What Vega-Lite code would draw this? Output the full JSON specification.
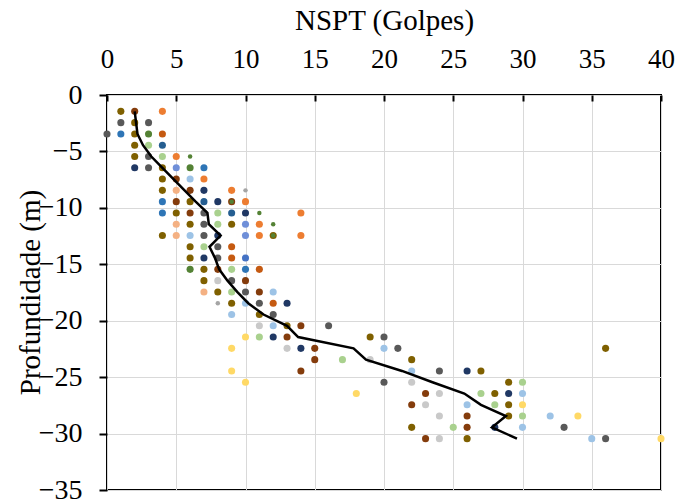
{
  "$schema": "https://vega.github.io/schema/vega-lite/v6.json",
  "width": 554,
  "height": 395,
  "autosize": {"type": "none"},
  "padding": {"left": 107, "top": 95, "right": 18, "bottom": 14},
  "background": "white",
  "config": {
    "view": {"stroke": "black", "strokeWidth": 2},
    "font": "Liberation Serif",
    "axis": {"labelFont": "Liberation Serif", "titleFont": "Liberation Serif"}
  },
  "datasets": {
    "pts": [
      {"nspt":1,"prof":-1.45,"furo":"S1"},{"nspt":2,"prof":-1.45,"furo":"S7"},{"nspt":4,"prof":-1.45,"furo":"S8"},
      {"nspt":1,"prof":-2.45,"furo":"S2"},{"nspt":2,"prof":-2.45,"furo":"S1"},{"nspt":3,"prof":-2.45,"furo":"S2"},
      {"nspt":0,"prof":-3.45,"furo":"S2"},{"nspt":1,"prof":-3.45,"furo":"S3"},{"nspt":2,"prof":-3.45,"furo":"S1"},{"nspt":3,"prof":-3.45,"furo":"S4"},{"nspt":4,"prof":-3.45,"furo":"S9"},
      {"nspt":2,"prof":-4.45,"furo":"S1"},{"nspt":3,"prof":-4.45,"furo":"S5"},{"nspt":4,"prof":-4.45,"furo":"S10"},
      {"nspt":2,"prof":-5.45,"furo":"S1"},{"nspt":3,"prof":-5.45,"furo":"S2"},{"nspt":4,"prof":-5.45,"furo":"S5"},{"nspt":5,"prof":-5.45,"furo":"S8"},{"nspt":6,"prof":-5.45,"furo":"S17"},
      {"nspt":2,"prof":-6.45,"furo":"S6"},{"nspt":3,"prof":-6.45,"furo":"S2"},{"nspt":4,"prof":-6.45,"furo":"S1"},{"nspt":5,"prof":-6.45,"furo":"S11"},{"nspt":6,"prof":-6.45,"furo":"S4"},{"nspt":7,"prof":-6.45,"furo":"S3"},
      {"nspt":4,"prof":-7.45,"furo":"S1"},{"nspt":5,"prof":-7.45,"furo":"S7"},{"nspt":6,"prof":-7.45,"furo":"S12"},{"nspt":7,"prof":-7.45,"furo":"S8"},
      {"nspt":4,"prof":-8.45,"furo":"S1"},{"nspt":5,"prof":-8.45,"furo":"S13"},{"nspt":6,"prof":-8.45,"furo":"S7"},{"nspt":7,"prof":-8.45,"furo":"S6"},{"nspt":9,"prof":-8.45,"furo":"S8"},{"nspt":10,"prof":-8.45,"furo":"S14"},
      {"nspt":4,"prof":-9.45,"furo":"S3"},{"nspt":5,"prof":-9.45,"furo":"S7"},{"nspt":6,"prof":-9.45,"furo":"S1"},{"nspt":7,"prof":-9.45,"furo":"S10"},{"nspt":8,"prof":-9.45,"furo":"S6"},{"nspt":9,"prof":-9.45,"furo":"S7"},{"nspt":9,"prof":-9.45,"furo":"S17"},{"nspt":10,"prof":-9.45,"furo":"S8"},
      {"nspt":4,"prof":-10.45,"furo":"S3"},{"nspt":5,"prof":-10.45,"furo":"S1"},{"nspt":6,"prof":-10.45,"furo":"S7"},{"nspt":7,"prof":-10.45,"furo":"S2"},{"nspt":8,"prof":-10.45,"furo":"S5"},{"nspt":9,"prof":-10.45,"furo":"S10"},{"nspt":10,"prof":-10.45,"furo":"S6"},{"nspt":11,"prof":-10.45,"furo":"S17"},{"nspt":14,"prof":-10.45,"furo":"S8"},
      {"nspt":5,"prof":-11.45,"furo":"S13"},{"nspt":6,"prof":-11.45,"furo":"S1"},{"nspt":7,"prof":-11.45,"furo":"S2"},{"nspt":8,"prof":-11.45,"furo":"S5"},{"nspt":9,"prof":-11.45,"furo":"S1"},{"nspt":10,"prof":-11.45,"furo":"S11"},{"nspt":11,"prof":-11.45,"furo":"S8"},{"nspt":12,"prof":-11.45,"furo":"S17"},
      {"nspt":4,"prof":-12.45,"furo":"S1"},{"nspt":5,"prof":-12.45,"furo":"S13"},{"nspt":6,"prof":-12.45,"furo":"S12"},{"nspt":7,"prof":-12.45,"furo":"S2"},{"nspt":8,"prof":-12.45,"furo":"S6"},{"nspt":10,"prof":-12.45,"furo":"S11"},{"nspt":11,"prof":-12.45,"furo":"S8"},{"nspt":12,"prof":-12.45,"furo":"S1"},{"nspt":12,"prof":-12.45,"furo":"S17"},{"nspt":14,"prof":-12.45,"furo":"S8"},
      {"nspt":6,"prof":-13.45,"furo":"S1"},{"nspt":7,"prof":-13.45,"furo":"S5"},{"nspt":8,"prof":-13.45,"furo":"S2"},{"nspt":9,"prof":-13.45,"furo":"S9"},
      {"nspt":6,"prof":-14.45,"furo":"S1"},{"nspt":7,"prof":-14.45,"furo":"S6"},{"nspt":8,"prof":-14.45,"furo":"S2"},{"nspt":9,"prof":-14.45,"furo":"S9"},{"nspt":10,"prof":-14.45,"furo":"S18"},
      {"nspt":6,"prof":-15.45,"furo":"S4"},{"nspt":7,"prof":-15.45,"furo":"S1"},{"nspt":8,"prof":-15.45,"furo":"S7"},{"nspt":9,"prof":-15.45,"furo":"S5"},{"nspt":10,"prof":-15.45,"furo":"S3"},{"nspt":11,"prof":-15.45,"furo":"S9"},
      {"nspt":7,"prof":-16.45,"furo":"S1"},{"nspt":8,"prof":-16.45,"furo":"S15"},{"nspt":9,"prof":-16.45,"furo":"S2"},{"nspt":10,"prof":-16.45,"furo":"S7"},
      {"nspt":7,"prof":-17.45,"furo":"S13"},{"nspt":8,"prof":-17.45,"furo":"S1"},{"nspt":9,"prof":-17.45,"furo":"S5"},{"nspt":10,"prof":-17.45,"furo":"S2"},{"nspt":11,"prof":-17.45,"furo":"S7"},{"nspt":12,"prof":-17.45,"furo":"S12"},
      {"nspt":8,"prof":-18.45,"furo":"S14"},{"nspt":9,"prof":-18.45,"furo":"S1"},{"nspt":10,"prof":-18.45,"furo":"S12"},{"nspt":11,"prof":-18.45,"furo":"S2"},{"nspt":12,"prof":-18.45,"furo":"S9"},{"nspt":13,"prof":-18.45,"furo":"S6"},
      {"nspt":9,"prof":-19.45,"furo":"S12"},{"nspt":11,"prof":-19.45,"furo":"S1"},{"nspt":12,"prof":-19.45,"furo":"S2"},
      {"nspt":11,"prof":-20.45,"furo":"S15"},{"nspt":12,"prof":-20.45,"furo":"S12"},{"nspt":13,"prof":-20.45,"furo":"S1"},{"nspt":14,"prof":-20.45,"furo":"S7"},{"nspt":16,"prof":-20.45,"furo":"S2"},
      {"nspt":10,"prof":-21.45,"furo":"S16"},{"nspt":11,"prof":-21.45,"furo":"S5"},{"nspt":12,"prof":-21.45,"furo":"S6"},{"nspt":13,"prof":-21.45,"furo":"S7"},{"nspt":19,"prof":-21.45,"furo":"S1"},{"nspt":20,"prof":-21.45,"furo":"S2"},
      {"nspt":9,"prof":-22.45,"furo":"S16"},{"nspt":13,"prof":-22.45,"furo":"S15"},{"nspt":14,"prof":-22.45,"furo":"S6"},{"nspt":15,"prof":-22.45,"furo":"S7"},{"nspt":20,"prof":-22.45,"furo":"S12"},{"nspt":21,"prof":-22.45,"furo":"S2"},{"nspt":36,"prof":-22.45,"furo":"S1"},
      {"nspt":15,"prof":-23.45,"furo":"S7"},{"nspt":17,"prof":-23.45,"furo":"S5"},{"nspt":19,"prof":-23.45,"furo":"S15"},{"nspt":22,"prof":-23.45,"furo":"S1"},
      {"nspt":9,"prof":-24.45,"furo":"S16"},{"nspt":14,"prof":-24.45,"furo":"S7"},{"nspt":22,"prof":-24.45,"furo":"S12"},{"nspt":24,"prof":-24.45,"furo":"S2"},{"nspt":26,"prof":-24.45,"furo":"S6"},{"nspt":27,"prof":-24.45,"furo":"S1"},
      {"nspt":10,"prof":-25.45,"furo":"S16"},{"nspt":20,"prof":-25.45,"furo":"S2"},{"nspt":22,"prof":-25.45,"furo":"S15"},{"nspt":29,"prof":-25.45,"furo":"S1"},{"nspt":30,"prof":-25.45,"furo":"S5"},
      {"nspt":18,"prof":-26.45,"furo":"S16"},{"nspt":23,"prof":-26.45,"furo":"S7"},{"nspt":24,"prof":-26.45,"furo":"S15"},{"nspt":27,"prof":-26.45,"furo":"S5"},{"nspt":28,"prof":-26.45,"furo":"S1"},{"nspt":29,"prof":-26.45,"furo":"S6"},{"nspt":30,"prof":-26.45,"furo":"S12"},
      {"nspt":22,"prof":-27.45,"furo":"S7"},{"nspt":23,"prof":-27.45,"furo":"S15"},{"nspt":26,"prof":-27.45,"furo":"S12"},{"nspt":28,"prof":-27.45,"furo":"S5"},{"nspt":29,"prof":-27.45,"furo":"S1"},{"nspt":30,"prof":-27.45,"furo":"S16"},
      {"nspt":24,"prof":-28.45,"furo":"S15"},{"nspt":26,"prof":-28.45,"furo":"S7"},{"nspt":29,"prof":-28.45,"furo":"S1"},{"nspt":30,"prof":-28.45,"furo":"S5"},{"nspt":32,"prof":-28.45,"furo":"S12"},{"nspt":34,"prof":-28.45,"furo":"S16"},
      {"nspt":22,"prof":-29.45,"furo":"S1"},{"nspt":25,"prof":-29.45,"furo":"S5"},{"nspt":26,"prof":-29.45,"furo":"S7"},{"nspt":28,"prof":-29.45,"furo":"S6"},{"nspt":30,"prof":-29.45,"furo":"S12"},{"nspt":33,"prof":-29.45,"furo":"S2"},
      {"nspt":23,"prof":-30.45,"furo":"S7"},{"nspt":24,"prof":-30.45,"furo":"S15"},{"nspt":26,"prof":-30.45,"furo":"S1"},{"nspt":35,"prof":-30.45,"furo":"S12"},{"nspt":36,"prof":-30.45,"furo":"S2"},{"nspt":40,"prof":-30.45,"furo":"S16"}
    ],
    "media": [
      {"nspt":2.0,"prof":-1.45},{"nspt":2.1,"prof":-2.45},{"nspt":2.2,"prof":-3.45},{"nspt":2.6,"prof":-4.45},
      {"nspt":3.2,"prof":-5.45},{"nspt":4.0,"prof":-6.45},{"nspt":4.8,"prof":-7.45},{"nspt":5.6,"prof":-8.45},
      {"nspt":6.4,"prof":-9.45},{"nspt":7.25,"prof":-10.45},{"nspt":7.35,"prof":-11.45},{"nspt":8.2,"prof":-12.45},
      {"nspt":7.4,"prof":-13.45},{"nspt":7.8,"prof":-14.45},{"nspt":8.1,"prof":-15.45},{"nspt":8.7,"prof":-16.45},
      {"nspt":9.4,"prof":-17.45},{"nspt":10.2,"prof":-18.45},{"nspt":11.3,"prof":-19.45},{"nspt":13.0,"prof":-20.45},
      {"nspt":13.8,"prof":-21.45},{"nspt":17.8,"prof":-22.45},{"nspt":18.7,"prof":-23.45},{"nspt":21.3,"prof":-24.45},
      {"nspt":23.5,"prof":-25.45},{"nspt":25.8,"prof":-26.45},{"nspt":27.0,"prof":-27.45},{"nspt":28.8,"prof":-28.45},
      {"nspt":27.8,"prof":-29.45},{"nspt":29.6,"prof":-30.45}
    ]
  },
  "encoding": {
    "x": {
      "field": "nspt", "type": "quantitative",
      "scale": {"domain": [0, 40], "nice": false, "zero": false},
      "axis": {
        "orient": "top", "title": "NSPT (Golpes)", "values": [0,5,10,15,20,25,30,35,40],
        "domain": false, "grid": true, "gridColor": "#d9d9d9", "gridWidth": 1,
        "ticks": true, "tickSize": -6, "tickColor": "black", "tickWidth": 2,
        "labelFont": "Liberation Serif", "labelFontSize": 27, "labelColor": "black", "labelPadding": 28,
        "labelFlush": false, "labelOverlap": false,
        "titleFont": "Liberation Serif", "titleFontSize": 29, "titleFontWeight": "normal", "titleColor": "black",
        "titleX": 277, "titleY": -66, "titleBaseline": "alphabetic", "titleAlign": "center"
      }
    },
    "y": {
      "field": "prof", "type": "quantitative",
      "scale": {"domain": [-35, 0], "nice": false, "zero": false},
      "axis": {
        "orient": "left", "title": "Profundidade (m)", "values": [-35,-30,-25,-20,-15,-10,-5,0],
        "domain": false, "grid": true, "gridColor": "#d9d9d9", "gridWidth": 1,
        "ticks": true, "tickSize": 8, "tickColor": "black", "tickWidth": 2,
        "labelFont": "Liberation Serif", "labelFontSize": 28, "labelColor": "black", "labelPadding": 17,
        "labelFlush": false, "labelOverlap": false,
        "titleFont": "Liberation Serif", "titleFontSize": 29, "titleFontWeight": "normal", "titleColor": "black",
        "titleAngle": -90, "titleX": -77, "titleY": 197, "titleBaseline": "middle", "titleAlign": "center"
      }
    }
  },
  "layer": [
    {
      "data": {"name": "pts"},
      "transform": [{"filter": "datum.furo !== 'S14' && datum.furo !== 'S17'"}],
      "mark": {"type": "circle", "opacity": 1, "size": 50},
      "encoding": {
        "color": {
          "field": "furo", "type": "nominal", "legend": null,
          "scale": {
            "domain": ["S1","S2","S3","S4","S5","S6","S7","S8","S9","S10","S11","S12","S13","S14","S15","S16","S17","S18"],
            "range": ["#7f6000","#595959","#2e75b6","#548235","#a9d18e","#203864","#843c0c","#ed7d31","#c55a11","#255e91","#6f8fd8","#9dc3e6","#f4b183","#a5a5a5","#c9c9c9","#ffd966","#548235","#4472c4"]
          }
        }
      }
    },
    {
      "data": {"name": "pts"},
      "transform": [{"filter": "datum.furo === 'S14' || datum.furo === 'S17'"}],
      "mark": {"type": "circle", "opacity": 1, "size": 20},
      "encoding": {
        "color": {
          "field": "furo", "type": "nominal", "legend": null,
          "scale": {
            "domain": ["S1","S2","S3","S4","S5","S6","S7","S8","S9","S10","S11","S12","S13","S14","S15","S16","S17","S18"],
            "range": ["#7f6000","#595959","#2e75b6","#548235","#a9d18e","#203864","#843c0c","#ed7d31","#c55a11","#255e91","#6f8fd8","#9dc3e6","#f4b183","#a5a5a5","#c9c9c9","#ffd966","#548235","#4472c4"]
          }
        }
      }
    },
    {
      "data": {"name": "media"},
      "mark": {"type": "line", "color": "black", "strokeWidth": 2.5},
      "encoding": {
        "order": {"field": "prof", "type": "quantitative", "sort": "descending"}
      }
    }
  ]
}
